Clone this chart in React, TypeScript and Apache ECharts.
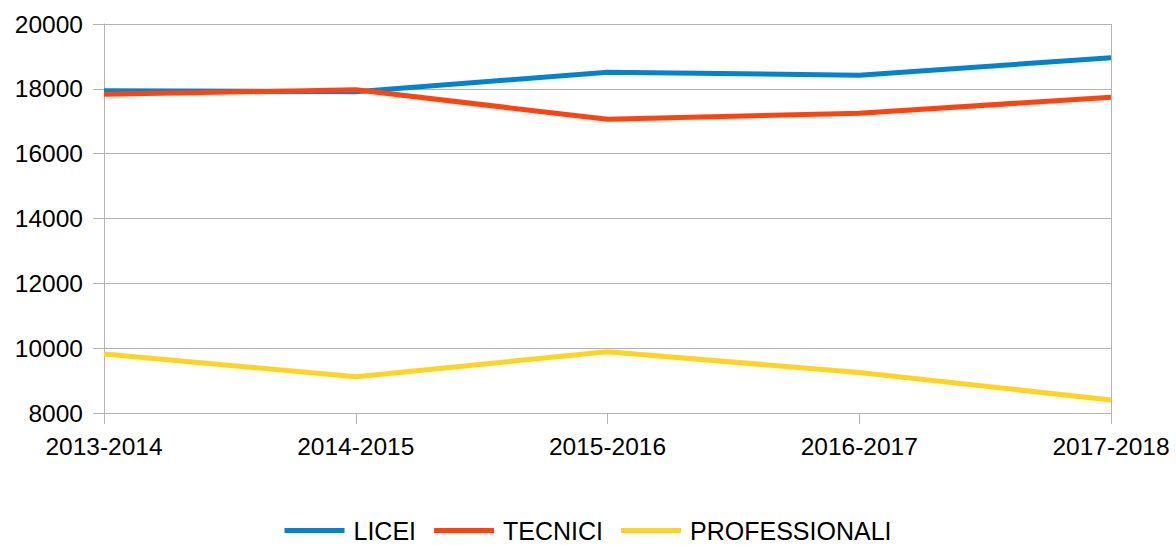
import React, { useEffect, useRef } from "react";
import * as echarts from "echarts";

const categories = ["2013-2014", "2014-2015", "2015-2016", "2016-2017", "2017-2018"];
const licei = [17940, 17910, 18510, 18420, 18960];
const tecnici = [17830, 17970, 17060, 17250, 17740];
const professionali = [9820, 9120, 9890, 9250, 8400];
const seriesNames = ["LICEI", "TECNICI", "PROFESSIONALI"];
const colors = ["#0084d1", "#ff420e", "#ffd320"];

export default function App() {
  const ref = useRef<HTMLDivElement>(null);
  useEffect(() => {
    if (!ref.current) return;
    const chart = echarts.init(ref.current, undefined, { renderer: "svg" });
    const font = "Liberation Sans";
    const mk = (name: string, data: number[], color: string) => ({
      name,
      type: "line",
      data,
      showSymbol: false,
      symbol: "none",
      lineStyle: { width: 5, color },
      itemStyle: { color },
    });
    chart.setOption({
      animation: false,
      backgroundColor: "#ffffff",
      textStyle: { fontFamily: font },
      grid: { left: 104, right: 65, top: 24, bottom: 132, containLabel: false },
      legend: {
        top: 513,
        left: "center",
        itemWidth: 60,
        itemHeight: 5,
        itemGap: 18,
        icon: "rect",
        textStyle: { fontSize: 25, color: "#000", fontFamily: font, padding: [0, 0, 0, 4] },
        data: seriesNames,
      },
      xAxis: {
        type: "category",
        data: categories,
        boundaryGap: false,
        axisLine: { lineStyle: { color: "#b3b3b3", width: 1 } },
        axisTick: { show: true, length: 11, alignWithLabel: true, lineStyle: { color: "#b3b3b3" } },
        axisLabel: { fontSize: 24.5, color: "#000", margin: 21, fontFamily: font },
        splitLine: {
          show: true,
          interval: (index: number) => index === categories.length - 1,
          lineStyle: { color: "#b3b3b3", width: 1 },
        },
      },
      yAxis: {
        type: "value",
        min: 8000,
        max: 20000,
        interval: 2000,
        axisLine: { show: true, lineStyle: { color: "#b3b3b3", width: 1 } },
        axisTick: { show: true, length: 11, lineStyle: { color: "#b3b3b3" } },
        axisLabel: {
          fontSize: 24.5,
          color: "#000",
          margin: 21,
          fontFamily: font,
          formatter: (v: number) => String(v),
        },
        splitLine: { show: true, lineStyle: { color: "#b3b3b3", width: 1 } },
      },
      series: [
        mk(seriesNames[0], licei, colors[0]),
        mk(seriesNames[1], tecnici, colors[1]),
        mk(seriesNames[2], professionali, colors[2]),
      ],
    });
    return () => chart.dispose();
  }, []);
  return (
    <div
      ref={ref}
      style={{ position: "fixed", left: 0, top: 0, width: 1176, height: 545, background: "#fff" }}
    />
  );
}
